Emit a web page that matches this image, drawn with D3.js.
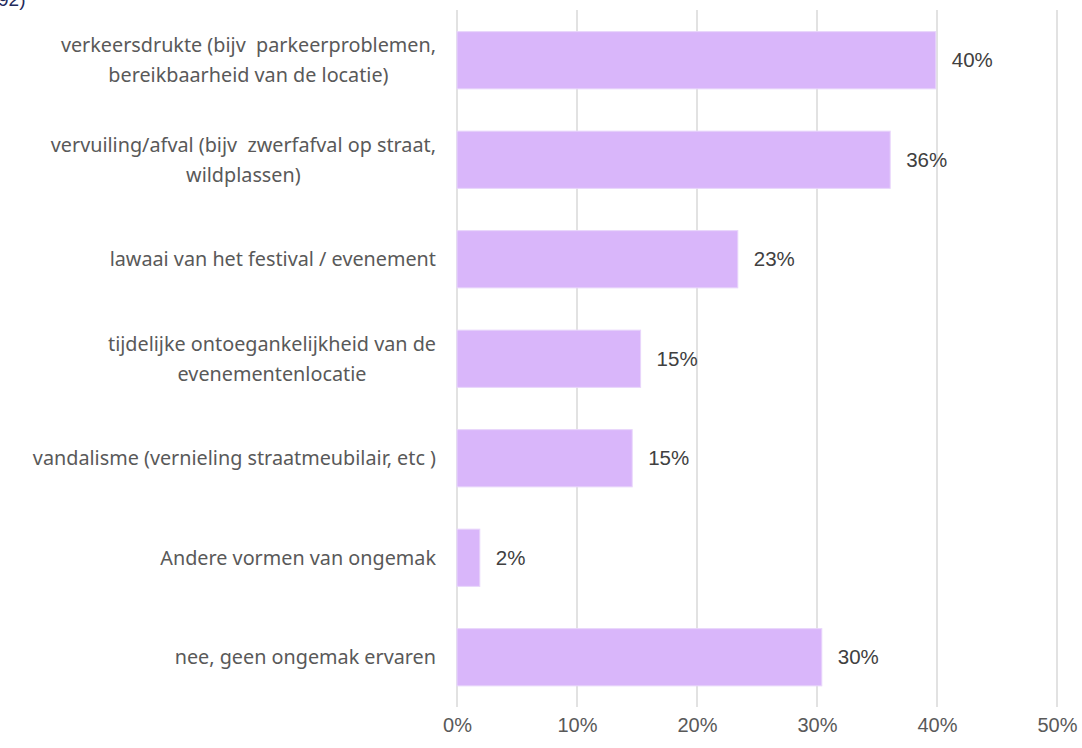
<!DOCTYPE html>
<html>
<head>
<meta charset="utf-8">
<script src="https://cdn.jsdelivr.net/npm/d3@7"></script>
<style>
  body { margin: 0; background: #fff; }
  svg { display: block; }
</style>
</head>
<body>
<div id="chart"></div>
<script>
// Horizontal bar chart - ervaren ongemak door festivals / evenementen

const categories = [
    ['verkeersdrukte (bijv  parkeerproblemen,', 'bereikbaarheid van de locatie)'],
    ['vervuiling/afval (bijv  zwerfafval op straat,', 'wildplassen)'],
    ['lawaai van het festival / evenement'],
    ['tijdelijke ontoegankelijkheid van de', 'evenementenlocatie'],
    ['vandalisme (vernieling straatmeubilair, etc )'],
    ['Andere vormen van ongemak'],
    ['nee, geen ongemak ervaren']
];
const values = [0.399, 0.361, 0.234, 0.153, 0.146, 0.019, 0.304];
const valueLabels = ['40%', '36%', '23%', '15%', '15%', '2%', '30%'];
const tickValues = [0, 0.1, 0.2, 0.3, 0.4, 0.5];

const W = 1082, H = 748;
const margin = { top: 10, right: 25, bottom: 41, left: 457 };

const svg = d3.select('#chart').append('svg')
    .attr('width', W)
    .attr('height', H);

// cut-off title remnant at the very top
svg.append('text')
    .attr('x', -2)
    .attr('y', 6)
    .attr('font-family', 'Liberation Sans, Arial, sans-serif')
    .attr('font-size', '19px')
    .attr('fill', '#1f2a5c')
    .text('92)');

const x = d3.scaleLinear()
    .domain([0, 0.5])
    .range([margin.left, 1057]);

const y = d3.scaleBand()
    .domain(d3.range(categories.length))
    .range([margin.top + 0.5, H - margin.bottom])
    .paddingInner(0.425)
    .paddingOuter(0.2125);

// gridlines
svg.append('g')
    .selectAll('line')
    .data(tickValues)
    .join('line')
    .attr('x1', d => x(d))
    .attr('x2', d => x(d))
    .attr('y1', margin.top)
    .attr('y2', H - margin.bottom)
    .attr('stroke', '#d9d9d9')
    .attr('stroke-width', 1.5);

// bars
svg.append('g')
    .selectAll('rect')
    .data(values)
    .join('rect')
    .attr('x', x(0))
    .attr('y', (d, i) => y(i))
    .attr('width', d => x(d) - x(0))
    .attr('height', y.bandwidth())
    .attr('fill', '#d9b6fa')
    .attr('stroke', '#e8d5fb')
    .attr('stroke-width', 1);

// value labels
svg.append('g')
    .selectAll('text')
    .data(values)
    .join('text')
    .attr('x', d => x(d) + 16)
    .attr('y', (d, i) => y(i) + y.bandwidth() / 2)
    .attr('dy', '0.35em')
    .attr('font-family', 'Liberation Sans, Arial, sans-serif')
    .attr('font-size', '20.5px')
    .attr('fill', '#404040')
    .text((d, i) => valueLabels[i]);

// x axis tick labels
const xAxis = svg.append('g')
    .attr('transform', `translate(0,${H - margin.bottom})`)
    .call(d3.axisBottom(x).tickValues(tickValues).tickFormat(d3.format('.0%')).tickSize(0).tickPadding(11));
xAxis.select('.domain').remove();
xAxis.selectAll('text')
    .attr('font-family', 'Liberation Sans, Arial, sans-serif')
    .attr('font-size', '20px')
    .attr('fill', '#595959');

// category labels, wrapped lines centred within a right-aligned block
const labelRight = 436;
const lineH = 30;
const catFont = 'Noto Sans, Open Sans, sans-serif';
categories.forEach((lines, i) => {
    const g = svg.append('g');
    const cy = y(i) + y.bandwidth() / 2;
    const texts = lines.map((line, j) => g.append('text')
        .attr('y', cy + (j - (lines.length - 1) / 2) * lineH)
        .attr('dy', '0.35em')
        .attr('font-family', catFont)
        .attr('font-size', '19.8px')
        .attr('fill', '#595959')
        .attr('text-anchor', 'middle')
        .style('white-space', 'pre')
        .text(line));
    const maxW = d3.max(texts, t => t.node().getComputedTextLength());
    texts.forEach(t => t.attr('x', labelRight - maxW / 2));
});
</script>
</body>
</html>
